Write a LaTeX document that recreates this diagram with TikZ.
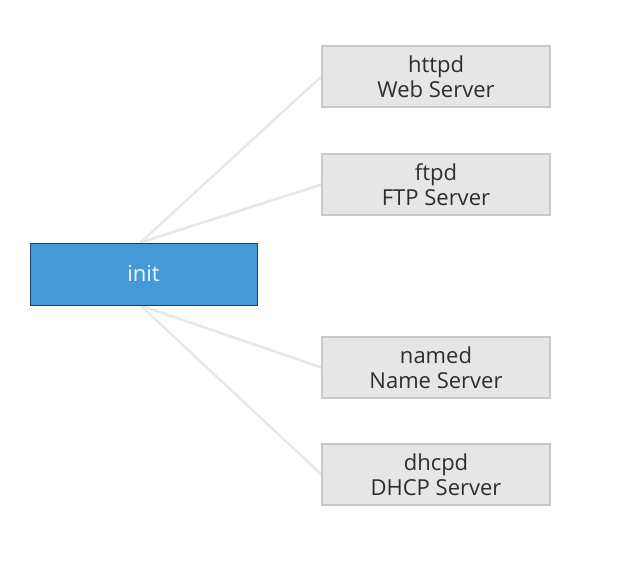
\documentclass[tikz,border=0pt]{standalone}
\usepackage{fontspec}
\setmainfont{Open Sans}
\usepackage{tikz}
\usetikzlibrary{positioning,backgrounds}

\definecolor{initblue}{HTML}{4499D9}
\definecolor{initedge}{HTML}{1F3F66}
\definecolor{srvfill}{HTML}{E6E6E6}
\definecolor{srvedge}{HTML}{C8C8C8}
\definecolor{linkgray}{HTML}{E8E8E8}
\definecolor{txtgray}{HTML}{2E2E2E}

\begin{document}
\begin{tikzpicture}[x=1pt, y=1pt,
    proc/.style={rectangle, draw=initedge, line width=0.9pt, fill=initblue, text=white!92!initblue,
        minimum width=227pt, minimum height=62pt, font=\fontsize{22}{26}\selectfont},
    server/.style={rectangle, draw=srvedge, line width=1.3pt, fill=srvfill, text=txtgray, align=center,
        minimum width=228pt, minimum height=61pt, inner sep=2pt, font=\fontsize{22}{25}\selectfont},
    link/.style={draw=linkgray, line width=2.6pt}]

    \useasboundingbox (0,0) rectangle (628,568);

    % Nodes
    \node[proc] (init) at (143.5,294) {init};
    \node[server] (httpd) at (436,491.5) {httpd\\Web Server};
    \node[server] (ftpd) at (436,383.5) {ftpd\\FTP Server};
    \node[server] (named) at (436,200.5) {named\\Name Server};
    \node[server] (dhcpd) at (436,93.5) {dhcpd\\DHCP Server};

    % Connections
    \begin{scope}[on background layer]
    \draw[link] ([xshift=-3pt]init.north) -- (httpd.west);
    \draw[link] ([xshift=-3pt]init.north) -- (ftpd.west);
    \draw[link] ([xshift=-3pt]init.south) -- (named.west);
    \draw[link] ([xshift=-3pt]init.south) -- (dhcpd.west);
    \end{scope}

\end{tikzpicture}
\end{document}
